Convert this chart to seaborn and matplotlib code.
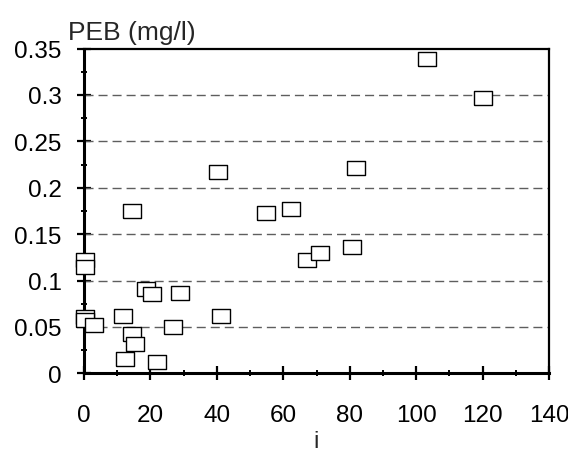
import numpy as np
import pandas as pd
import matplotlib
matplotlib.use("Agg")
import matplotlib.pyplot as plt
from matplotlib.ticker import MultipleLocator, FuncFormatter
import seaborn as sns

# values
i_values = [0.2, 0.2, 0.2, 0.3, 3.0, 11.8, 12.3, 14.5, 14.5, 15.3, 18.8,
            20.4, 22.1, 26.7, 28.9, 40.3, 41.2, 54.8, 62.3, 67.0, 71.1,
            80.8, 81.8, 103.3, 120.1]
peb_values = [0.1218, 0.1145, 0.0605, 0.0578, 0.0524, 0.0620, 0.0151, 0.1746,
              0.0423, 0.0319, 0.0905, 0.0858, 0.0122, 0.0502, 0.0865, 0.2166,
              0.0614, 0.1727, 0.1770, 0.1224, 0.1293, 0.1364, 0.2209, 0.3384,
              0.2963]

x_ticks = [0, 20, 40, 60, 80, 100, 120, 140]
y_ticks = [0, 0.05, 0.1, 0.15, 0.2, 0.25, 0.3, 0.35]

df = pd.DataFrame({"i": i_values, "PEB": peb_values})

sns.set_theme(style="white")
plt.rcParams['font.family'] = ['Liberation Sans', 'DejaVu Sans']
FS = 17.5

fig = plt.figure(figsize=(5.68, 4.52), dpi=100)
ax = fig.add_axes([84 / 568, 1 - 374.3 / 452, 465 / 568, 324.8 / 452])

# wide open rectangle marker
rect = [(-1, -0.78), (1, -0.78), (1, 0.78), (-1, 0.78), (-1, -0.78)]
sns.scatterplot(data=df, x="i", y="PEB", ax=ax, marker=rect, s=175,
                facecolor="white", edgecolor="black", linewidth=1.0,
                zorder=3, legend=False, clip_on=False)

ax.set_xlim(0, 140)
ax.set_ylim(0, 0.35)
ax.set_xticks(x_ticks)
ax.set_yticks(y_ticks)
ax.xaxis.set_minor_locator(MultipleLocator(10))
ax.yaxis.set_minor_locator(MultipleLocator(0.025))
ax.yaxis.set_major_formatter(FuncFormatter(lambda v, p: f"{v:g}"))

ax.tick_params(which="major", direction="inout", length=10, width=1.6,
               color="black", labelsize=FS, labelcolor="black")
ax.tick_params(axis="x", which="major", pad=17)
ax.tick_params(axis="y", which="major", pad=11)
ax.tick_params(which="minor", direction="inout", length=5, width=1.4,
               color="black")
ax.tick_params(bottom=True, left=True, which="both")

# dashed horizontal gridlines (not on the axis or the top edge)
for v in y_ticks[1:-1]:
    ax.axhline(v, color="#5e5e5e", linewidth=1.0, linestyle=(0, (6.5, 3.6)),
               zorder=1)

for side in ["left", "bottom"]:
    ax.spines[side].set_linewidth(2.2)
    ax.spines[side].set_color("black")
for side in ["top", "right"]:
    ax.spines[side].set_linewidth(1.6)
    ax.spines[side].set_color("black")

ax.set_xlabel("i", fontsize=FS, labelpad=3)
ax.set_ylabel("")
ax.text(-0.035, 1.029, "PEB (mg/l)", transform=ax.transAxes, fontsize=19,
        ha="left", va="baseline")

fig.savefig("out.png", dpi=100)
